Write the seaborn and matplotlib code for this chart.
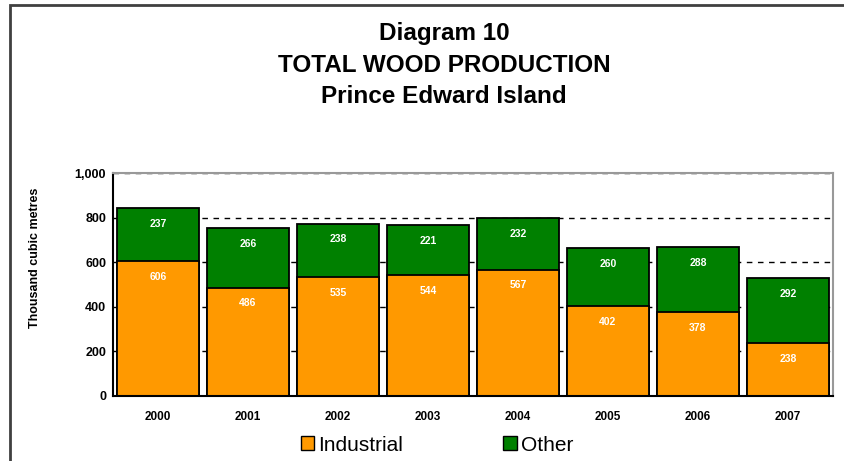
import numpy as np
import pandas as pd
import matplotlib
matplotlib.use("Agg")
import matplotlib.pyplot as plt
import matplotlib.ticker as mticker
from matplotlib.patches import Patch, Rectangle
import seaborn as sns

# data
years = ['2000', '2001', '2002', '2003', '2004', '2005', '2006', '2007']
industrial = [606, 486, 535, 544, 567, 402, 378, 238]
other = [237, 266, 238, 221, 232, 260, 288, 292]

orange = '#FF9900'
green = '#008000'

sns.set_style('white')
plt.rcParams['font.family'] = ['Liberation Sans', 'DejaVu Sans']
plt.rcParams['text.color'] = 'black'
plt.rcParams['axes.labelcolor'] = 'black'
plt.rcParams['xtick.color'] = 'black'
plt.rcParams['ytick.color'] = 'black'

df = pd.DataFrame({'year': years, 'Industrial': industrial, 'Other': other})
df['total'] = df['Industrial'] + df['Other']

fig = plt.figure(figsize=(8.45, 4.61), dpi=100)
ax = fig.add_axes([113/845, 1 - 396/461, (833 - 113)/845, (396 - 173)/461])

# total first (green), industrial over it (orange) -> stacked look
sns.barplot(data=df, x='year', y='total', color=green, saturation=1, width=0.92,
            edgecolor='black', linewidth=1.3, errorbar=None, ax=ax)
sns.barplot(data=df, x='year', y='Industrial', color=orange, saturation=1, width=0.92,
            edgecolor='black', linewidth=1.3, errorbar=None, ax=ax)

ax.bar_label(ax.containers[0], labels=[str(v) for v in other], padding=-15,
             color='white', fontsize=7.5, fontweight='bold')
ax.bar_label(ax.containers[1], labels=[str(v) for v in industrial], padding=-15,
             color='white', fontsize=7.5, fontweight='bold')

ax.set_ylim(0, 1000)
ax.set_xlim(-0.5, len(years) - 0.5)
ax.set_yticks([0, 200, 400, 600, 800, 1000])
ax.yaxis.set_major_formatter(mticker.FuncFormatter(lambda v, p: f'{int(v):,}'))
ax.yaxis.grid(True, linestyle=(0, (4, 4)), color='black', linewidth=1)
ax.set_axisbelow(True)

ax.set_xlabel('')
ax.set_ylabel('Thousand cubic metres', fontsize=9, fontweight='bold')
ax.yaxis.set_label_coords(-0.10, 0.62)
ax.tick_params(axis='y', direction='inout', length=6, width=1, labelsize=9, pad=2)
ax.tick_params(axis='x', which='major', length=0, labelsize=8.5, pad=11)
for lab in ax.get_xticklabels() + ax.get_yticklabels():
    lab.set_fontweight('bold')
ax.set_xticks(np.arange(-0.5, len(years), 1), minor=True)
ax.tick_params(axis='x', which='minor', direction='inout', length=6, width=1)

for s in ['left', 'bottom']:
    ax.spines[s].set_color('black')
    ax.spines[s].set_linewidth(1.5)
for s in ['top', 'right']:
    ax.spines[s].set_color('#999999')
    ax.spines[s].set_linewidth(1.5)

fig.text(444/845, 1 - 65/461, 'Diagram 10\nTOTAL WOOD PRODUCTION\nPrince Edward Island',
         ha='center', va='center', fontsize=17.5, fontweight='bold', linespacing=1.45)

handles = [Patch(facecolor=orange, edgecolor='black', label='Industrial'),
           Patch(facecolor=green, edgecolor='black', label='Other')]
fig.legend(handles=handles, loc='center', bbox_to_anchor=(437/845, 1 - 445/461), ncol=2,
           frameon=False, fontsize=15, handlelength=0.65, handleheight=0.65,
           handletextpad=0.2, columnspacing=4.8)

fig.patches.append(Rectangle((10/845, -0.1), 2, 1.1 - 5/461, transform=fig.transFigure,
                             fill=False, edgecolor='#404040', linewidth=2))

fig.savefig('out.png', dpi=100)
